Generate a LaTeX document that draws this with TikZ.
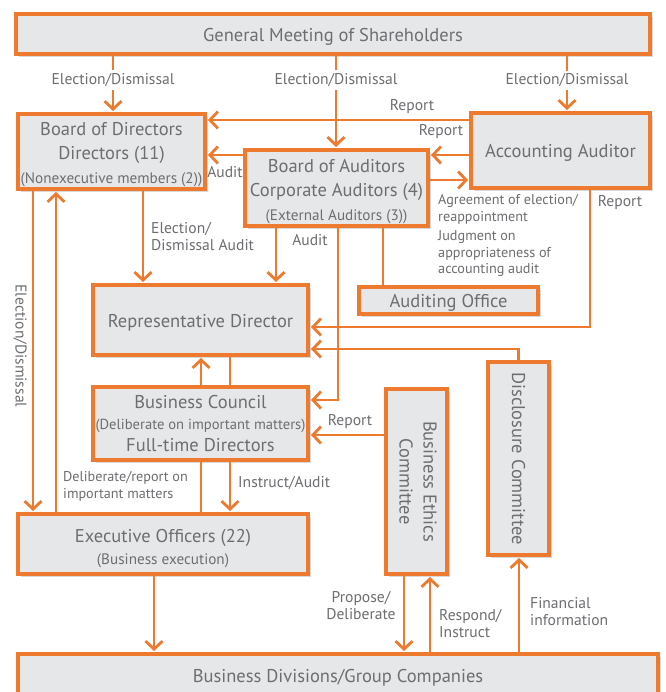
\documentclass[tikz,border=0pt]{standalone}
\usepackage{fontspec}
\setmainfont{PT Sans}
\usetikzlibrary{arrows.meta,shadows}
\definecolor{org}{HTML}{EE7A30}
\definecolor{boxg}{HTML}{E6E7E8}
\definecolor{txtg}{HTML}{6D6E71}
\newcommand\mainf{\fontsize{18.5}{24}\selectfont}
\newcommand\subf{\fontsize{15.2}{20}\selectfont}
\newcommand\labf{\fontsize{15.6}{17}\selectfont}
\newcommand\smf{\fontsize{14.2}{16.5}\selectfont}
\newcommand\tlift[1]{\rule{0pt}{#1}}
\begin{document}
\begin{tikzpicture}[x=1pt,y=-1pt,
 box/.style={draw=org, line width=4pt, fill=boxg, text=txtg, align=center, font=\mainf, inner sep=0pt,
   drop shadow={shadow xshift=3pt, shadow yshift=-3pt, fill=black, opacity=0.15}},
 lift/.style={execute at begin node={\rule{0pt}{#1}}},
 con/.style={draw=org, line width=2.8pt},
 arr/.style={con, -{Straight Barb[length=8pt,width=17pt]}, shorten >=1pt},
 lab/.style={text=txtg, font=\labf, inner sep=0pt, align=left},
 wlab/.style={lab, fill=white, inner sep=3pt},
]
\path[use as bounding box, fill=white] (0,0) rectangle (665,692);

% boxes
\node[box, lift=18pt, minimum width=634pt, minimum height=40pt] (gms) at (333,34) {General Meeting of Shareholders};
\node[box, minimum width=187pt, minimum height=75pt] (bod) at (111.5,151.5) {\tlift{20pt}Board of Directors\\Directors (11)\\{\subf (Nonexecutive members (2))}};
\node[box, minimum width=183pt, minimum height=76pt] (boa) at (336.5,188) {\tlift{20pt}Board of Auditors\\Corporate Auditors (4)\\{\subf (External Auditors (3))}};
\node[box, lift=18pt, minimum width=179pt, minimum height=75pt] (aa) at (560.5,150.5) {Accounting Auditor};
\node[box, lift=18pt, minimum width=179pt, minimum height=27pt] (ao) at (448.5,300.5) {Auditing Office};
\node[box, lift=18pt, minimum width=215pt, minimum height=70pt] (rd) at (200.5,320) {Representative Director};
\node[box, minimum width=215pt, minimum height=73pt] (bc) at (200.5,423.5) {Business Council\\[-3pt]{\fontsize{14.6}{20}\selectfont (Deliberate on important matters)}\\[-2pt]Full-time Directors};
\node[box, minimum width=61pt, minimum height=185pt] (bec) at (416.5,481.5) {\rotatebox{-90}{\begin{tabular}{@{}c@{}}Business Ethics\\[0pt]Committee\end{tabular}}};
\node[box, minimum width=61pt, minimum height=193pt] (dc) at (518.5,458.5) {\rotatebox{-90}{Disclosure Committee}};
\node[box, minimum width=290pt, minimum height=60pt] (eo) at (163,544) {\tlift{21.5pt}Executive Officers (22)\\[-2pt]{\subf (Business execution)}};
\node[box, lift=18pt, minimum width=640pt, minimum height=42pt] (bd) at (338,675) {Business Divisions/Group Companies};

% connectors from the General Meeting
\draw[arr] (113,0 |- gms.south) -- (113,0 |- bod.north) node[wlab, pos=0.43] {Election/Dismissal};
\draw[arr] (336,0 |- gms.south) -- (336,0 |- boa.north) node[wlab, pos=0.26] {Election/Dismissal};
\draw[arr] (567,0 |- gms.south) -- (567,0 |- aa.north) node[wlab, pos=0.44] {Election/Dismissal};

% upper block
\draw[arr] (aa.west |- 0,120) -- (bod.east |- 0,120);
\node[lab] at (412,107) {Report};
\draw[arr] (aa.west |- 0,155) -- (boa.east |- 0,155);
\node[lab] at (441,132) {Report};
\draw[arr] (boa.west |- 0,155) -- (bod.east |- 0,155);
\node[lab] at (225,172) {Audit};
\draw[arr] (boa.east |- 0,180) -- (aa.west |- 0,180);
\node[lab, anchor=west, font=\smf] at (438,209.5) {Agreement of election/\\reappointment};
\node[lab, anchor=west, font=\smf] at (438,254) {Judgment on\\appropriateness of\\accounting audit};
\draw[arr] (590,0 |- aa.south) |- (rd.east |- 0,327);
\node[lab] at (620,203) {Report};

\draw[arr] (143,0 |- bod.south) -- (143,0 |- rd.north);
\node[lab, anchor=west] at (151,236.5) {Election/\\Dismissal Audit};
\draw[arr] (276,0 |- boa.south) -- (276,0 |- rd.north);
\node[lab] at (310,240) {Audit};
\draw[arr] (338,0 |- boa.south) |- (bc.east |- 0,400);
\draw[con] (383,0 |- boa.south) -- (383,0 |- ao.north);
\draw[arr] (dc.north) |- (rd.east |- 0,349);
\draw[arr] (bec.west |- 0,435) -- (bc.east |- 0,435);
\node[lab] at (350,422) {Report};

% middle column
\draw[arr] (201,0 |- bc.north) -- (201,0 |- rd.south);
\draw[con] (230,0 |- rd.south) -- (230,0 |- bc.north);
\draw[con] (201,0 |- bc.south) -- (201,0 |- eo.north);
\draw[arr] (230,0 |- bc.south) -- (230,0 |- eo.north);
\node[lab, anchor=west] at (238,483) {Instruct/Audit};
\node[lab, anchor=west, font=\smf] at (63,486.5) {Deliberate/report on\\important matters};

% left side
\draw[arr] (33,0 |- bod.south) -- (33,0 |- eo.north);
\draw[arr] (56,0 |- eo.north) -- (56,0 |- bod.south);
\node[lab, rotate=-90] at (20,346) {Election/Dismissal};

% bottom
\draw[arr] (154,0 |- eo.south) -- (154,0 |- bd.north);
\draw[arr] (404,0 |- bec.south) -- (404,0 |- bd.north);
\node[lab, align=center] at (361,606) {Propose/\\Deliberate};
\draw[arr] (430,0 |- bd.north) -- (430,0 |- bec.south);
\node[lab, anchor=west] at (439,623.5) {Respond/\\Instruct};
\draw[arr] (519,0 |- bd.north) -- (519,0 |- dc.south);
\node[lab, anchor=west] at (530,612) {Financial\\information};
\end{tikzpicture}
\end{document}
